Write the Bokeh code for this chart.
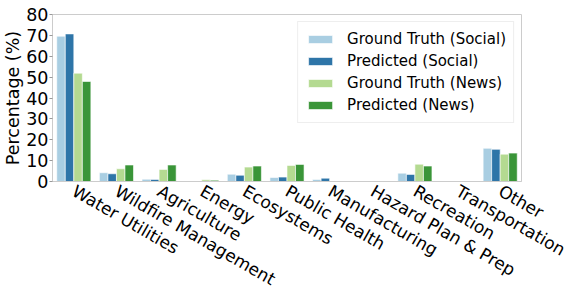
import math
from bokeh.plotting import figure
from bokeh.models import ColumnDataSource, FactorRange, Range1d, FixedTicker, Legend, LegendItem
from bokeh.transform import dodge
from bokeh.embed import file_html
from bokeh.resources import INLINE

categories = ["Water Utilities", "Wildfire Management", "Agriculture", "Energy", "Ecosystems",
              "Public Health", "Manufacturing", "Hazard Plan & Prep", "Recreation",
              "Transportation", "Other"]
gt_social = [69.6, 4.2, 1.1, 0.0, 3.5, 1.9, 1.0, 0.0, 4.0, 0.0, 15.9]
pred_social = [70.7, 3.7, 1.0, 0.0, 3.0, 2.1, 1.6, 0.0, 3.4, 0.0, 15.4]
gt_news = [51.9, 6.1, 5.8, 0.8, 6.9, 7.7, 0.0, 0.0, 8.3, 0.0, 13.1]
pred_news = [47.9, 7.9, 7.9, 0.6, 7.4, 8.2, 0.0, 0.0, 7.4, 0.0, 13.6]
series_names = ["Ground Truth (Social)", "Predicted (Social)", "Ground Truth (News)", "Predicted (News)"]
y_ticks = [0, 10, 20, 30, 40, 50, 60, 70, 80]

colors = ["#a9cee2", "#2e75a8", "#b4da91", "#3a9538"]
FONT = "DejaVu Sans"

src = ColumnDataSource(dict(cat=categories, gs=gt_social, ps=pred_social, gn=gt_news, pn=pred_news))

p = figure(x_range=FactorRange(*categories, range_padding=0), y_range=Range1d(0, 80),
           frame_width=469, frame_height=167, min_border_left=42, min_border_right=54,
           min_border_top=14, min_border_bottom=0,
           output_backend="svg", toolbar_location=None)

cols = ["gs", "ps", "gn", "pn"]
offsets = [-0.3, -0.1, 0.1, 0.3]
renderers = []
for c, off, color in zip(cols, offsets, colors):
    r = p.vbar(x=dodge("cat", off, range=p.x_range), top=c, width=0.2, source=src,
               fill_color=color, line_color="white", line_width=0.6)
    renderers.append(r)

legend = Legend(items=[LegendItem(label=n, renderers=[r]) for n, r in zip(series_names, renderers)],
                location="top_right", label_text_font=FONT, label_text_font_size="15px",
                label_text_color="black",
                glyph_width=30, glyph_height=10, label_height=20, spacing=2,
                label_standoff=12, padding=7, margin=7,
                border_line_color="#dddddd", background_fill_alpha=0.9)
p.add_layout(legend)

p.xgrid.visible = False
p.ygrid.visible = False
p.outline_line_color = "#cccccc"
p.yaxis.ticker = FixedTicker(ticks=y_ticks)
for ax in (p.xaxis, p.yaxis):
    ax.axis_line_color = "#cccccc"
    ax.minor_tick_line_color = None
    ax.major_label_text_font = FONT
    ax.major_label_text_color = "black"
p.xaxis.major_tick_line_color = None
p.yaxis.major_tick_line_color = "#999999"
p.yaxis.major_tick_out = 3
p.yaxis.major_tick_in = 0
p.xaxis.major_label_text_font_size = "17px"
p.yaxis.major_label_text_font_size = "17.5px"
p.yaxis.axis_label = "Percentage (%)"
p.yaxis.axis_label_text_font = FONT
p.yaxis.axis_label_text_font_size = "17.5px"
p.yaxis.axis_label_text_color = "black"
p.yaxis.axis_label_text_font_style = "normal"
p.yaxis.axis_label_standoff = 0
p.yaxis.major_label_standoff = 1
p.xaxis.major_label_orientation = -math.pi / 6
p.xaxis.major_label_standoff = 2

open("out.html", "w").write(file_html(p, INLINE))
